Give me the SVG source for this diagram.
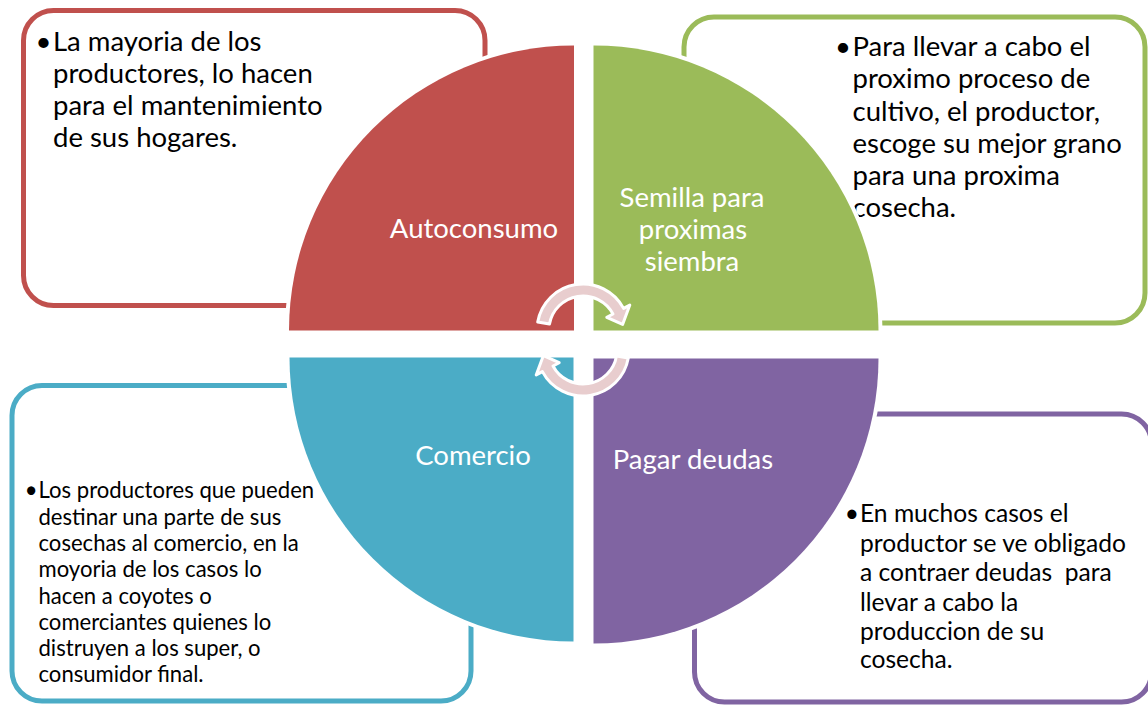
<svg xmlns="http://www.w3.org/2000/svg" width="1148" height="705" viewBox="0 0 1148 705">
<style>
.box{fill:#fff;stroke-width:5}
.q{stroke:#fff;stroke-width:8;paint-order:stroke}
.t{font-family:Lato,"Liberation Sans",sans-serif;fill:#000}
.b{text-anchor:end}
.big{font-size:27.5px}
.mid{font-size:24.6px}
.sm{font-size:22.1px}
.lbl{font-family:Lato,"Liberation Sans",sans-serif;font-size:27.5px;fill:#fff;text-anchor:middle}
.arr{fill:#e8cdce;stroke:#fff;stroke-width:3;stroke-linejoin:round}
</style>
<defs>
<path id="carr" d="M537.7,322 A46,46 0 0 1 623.6,308.4 L629.8,305.1 L622.6,324.4 L606.8,317.3 L613,314 A34,34 0 0 0 549.5,324.1 Z"/>
</defs>
<g id="box-autoconsumo">
<rect class="box" x="23.5" y="10.5" width="461.5" height="295" rx="30" stroke="#c0504d"/>
<text class="t big b" x="51.5" y="51">•</text>
<text class="t big"><tspan x="53" y="51">La mayoria de los</tspan><tspan x="53" y="83">productores, lo hacen</tspan><tspan x="53" y="115">para el mantenimiento</tspan><tspan x="53" y="147">de sus hogares.</tspan></text>
</g>
<g id="box-semilla">
<rect class="box" x="684" y="17" width="461" height="306" rx="30" stroke="#9bbb59"/>
<text class="t big b" x="851" y="56">•</text>
<text class="t big"><tspan x="852.5" y="56">Para llevar a cabo el</tspan><tspan x="852.5" y="88">proximo proceso de</tspan><tspan x="852.5" y="121">cultivo, el productor,</tspan><tspan x="852.5" y="153">escoge su mejor grano</tspan><tspan x="852.5" y="185">para una proxima</tspan><tspan x="852.5" y="217">cosecha.</tspan></text>
</g>
<g id="box-comercio">
<rect class="box" x="12" y="385.5" width="459" height="315.5" rx="30" stroke="#4bacc6"/>
<text class="t sm b" x="37.5" y="498">•</text>
<text class="t sm"><tspan x="38.5" y="498">Los productores que pueden</tspan><tspan x="38.5" y="524.5">destinar una parte de sus</tspan><tspan x="38.5" y="551">cosechas al comercio, en la</tspan><tspan x="38.5" y="577">moyoria de los casos lo</tspan><tspan x="38.5" y="603.5">hacen a coyotes o</tspan><tspan x="38.5" y="630">comerciantes quienes lo</tspan><tspan x="38.5" y="656">distruyen a los super, o</tspan><tspan x="38.5" y="682">consumidor final.</tspan></text>
</g>
<g id="box-deudas">
<rect class="box" x="694.5" y="414" width="457" height="288" rx="30" stroke="#8064a2"/>
<text class="t mid b" x="859" y="522">•</text>
<text class="t mid" xml:space="preserve" style="white-space:pre"><tspan x="860" y="522">En muchos casos el</tspan><tspan x="860" y="552">productor se ve obligado</tspan><tspan x="860" y="581">a contraer deudas  para</tspan><tspan x="860" y="611">llevar a cabo la</tspan><tspan x="860" y="640">produccion de su</tspan><tspan x="860" y="668">cosecha.</tspan></text>
</g>
<g id="q-autoconsumo">
<path class="q" fill="#c0504d" d="M574,330.5 L289,330.5 A285,285 0 0 1 574,45.5 Z"/>
<text class="lbl" x="474" y="238">Autoconsumo</text>
</g>
<g id="q-semilla">
<path class="q" fill="#9bbb59" d="M593.5,330.5 L593.5,45.5 A285,285 0 0 1 878.5,330.5 Z"/>
<text class="lbl"><tspan x="692" y="207">Semilla para</tspan><tspan x="693" y="239">proximas</tspan><tspan x="692" y="271">siembra</tspan></text>
</g>
<g id="q-comercio">
<path class="q" fill="#4bacc6" d="M573.5,357.5 L573.5,641.5 A284,284 0 0 1 289.5,357.5 Z"/>
<text class="lbl" x="473" y="465">Comercio</text>
</g>
<g id="q-deudas">
<path class="q" fill="#8064a2" d="M593.5,358.5 L878.5,358.5 A285,285 0 0 1 593.5,643.5 Z"/>
<text class="lbl" x="693" y="469">Pagar deudas</text>
</g>
<g id="connectors">
<use href="#carr" class="arr"/>
<use href="#carr" class="arr" transform="rotate(180 583 340)"/>
</g>
</svg>
